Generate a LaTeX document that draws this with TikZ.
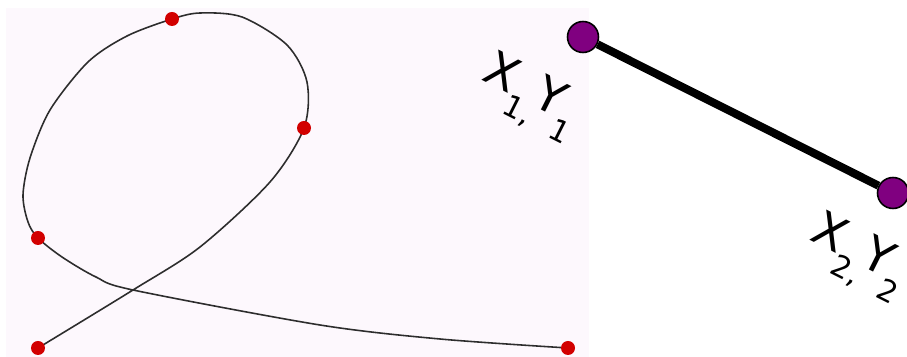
\documentclass[tikz,border=0pt]{standalone}
\usepackage{fontspec}
\usepackage{xcolor}
\usepackage{tikz}
\newfontfamily\labelfont{DejaVu Sans}

\definecolor{bgpink}{RGB}{253,248,253}
\definecolor{dotred}{RGB}{210,0,0}
\definecolor{endpurple}{RGB}{128,0,128}
\definecolor{curvegray}{RGB}{45,45,45}

\newcommand{\lowsub}[1]{\raisebox{-.45em}{\fontsize{17}{17}\selectfont #1}}

\begin{document}
\begin{tikzpicture}[x=0.02cm, y=-0.02cm]
        \useasboundingbox (0,0) rectangle (907,357);

        % Pink canvas behind the curve
        \fill[bgpink] (6,8) rectangle (589,357);

        % Control points on the curve
        \coordinate (d1) at (38,348);
        \coordinate (d2) at (304,128);
        \coordinate (d3) at (172,19);
        \coordinate (d4) at (38,238);
        \coordinate (d5) at (568,348);

        % Smooth curve through the points
        \draw[curvegray, line width=0.9pt] plot[smooth, tension=0.5] coordinates {
            (d1) (133,290) (200,247) (270,182) (d2) (307,82) (287,45) (242,17)
            (200,13) (d3) (127,36) (88,62) (50,110) (30,158) (23,195) (28,222) (d4)
            (62,257) (96,277) (133,290) (320,325) (440,339) (d5)};

        \foreach \p in {d1,d2,d3,d4,d5}
            \fill[dotred] (\p) circle (7);

        % Line segment with end points
        \node[circle, fill=endpurple, draw=black, line width=0.9pt, minimum size=0.62cm, inner sep=0pt] (p1) at (583,37) {};
        \node[circle, fill=endpurple, draw=black, line width=0.9pt, minimum size=0.62cm, inner sep=0pt] (p2) at (893,193) {};
        \draw[line width=4.6pt] (p1) -- (p2);

        % End point labels
        \node[rotate=-26.7, inner sep=0pt, font=\labelfont\fontsize{27}{30}\selectfont] (l1) at (529,98) {X\lowsub{1,}\kern-.12em Y\lowsub{1}};
        \node[rotate=-26.7, inner sep=0pt, font=\labelfont\fontsize{27}{30}\selectfont] (l2) at (857,258) {X\lowsub{2,}\kern-.12em Y\lowsub{2}};
    \end{tikzpicture}
\end{document}
